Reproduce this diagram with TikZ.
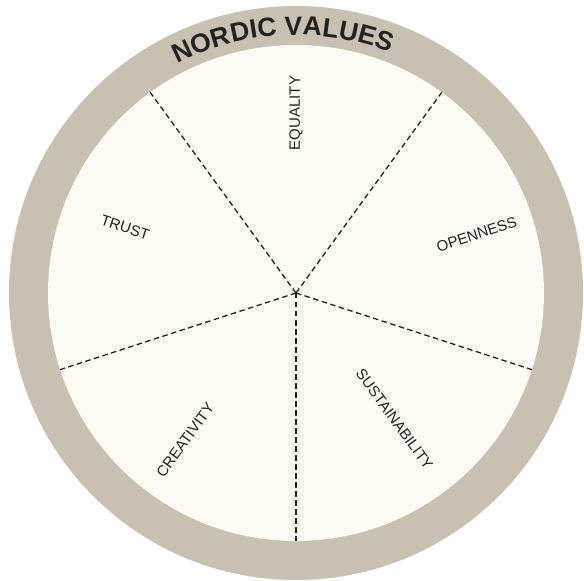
\documentclass[tikz,border=0pt]{standalone}
\usepackage{fontspec}
\setmainfont{Liberation Sans}
\usetikzlibrary{decorations.text}
\definecolor{ringcol}{HTML}{C8C0B0}
\definecolor{innercol}{HTML}{FBFAF5}
\definecolor{inkcol}{HTML}{222222}
\begin{document}
\begin{tikzpicture}[x=1pt,y=1pt,
  divider/.style={draw=inkcol,line width=1.3pt,dash pattern=on 5.5pt off 3.5pt},
  sectorlabel/.style={text=inkcol,font=\fontsize{15}{17}\selectfont,inner sep=0pt}]
\useasboundingbox (-296,-288) rectangle (288,293);
\fill[white] (-296,-288) rectangle (288,293);
\fill[ringcol] (0,0) circle (287);
\fill[innercol] (0,0) circle (248);
\coordinate (c) at (0,0);
\foreach \a/\n in {126/p1,54/p2,-18/p3,-90/p4,198/p5}{
  \coordinate (\n) at (\a:248);
  \draw[divider] (c) -- (\n);
}
\node[sectorlabel,rotate=90] (equality) at (90:180) {EQUALITY};
\node[sectorlabel,rotate=18] (openness) at (18:190) {OPENNESS};
\node[sectorlabel,rotate=-54] (sustain) at (-52:160) {SUSTAINABILITY};
\node[sectorlabel,rotate=54] (creativity) at (-127:184) {CREATIVITY};
\node[sectorlabel,rotate=-18] (trust) at (159:183) {TRUST};
\path[decorate,decoration={text along path,text align=center,
  text={|\color{inkcol}\bfseries\fontsize{26.5}{26}\selectfont|NORDIC VALUES}}]
  (133:258) arc[start angle=133,end angle=53,radius=258];
\end{tikzpicture}
\end{document}
